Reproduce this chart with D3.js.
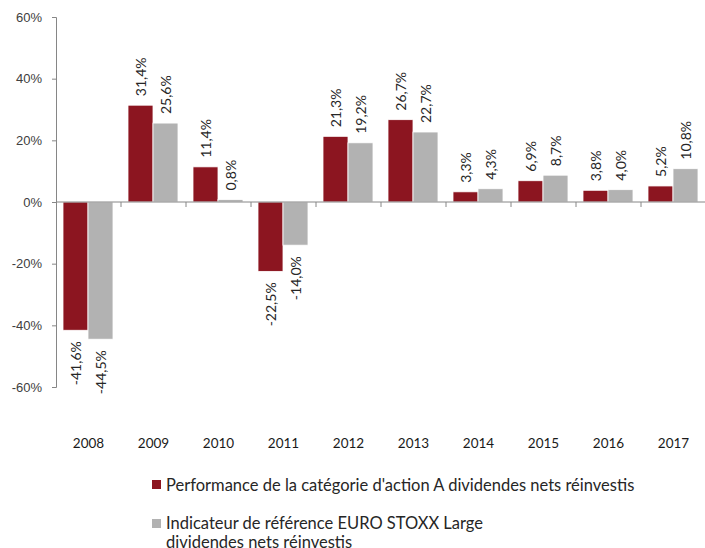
<!DOCTYPE html>
<html>
<head>
<meta charset="utf-8">
<script src="https://cdn.jsdelivr.net/npm/d3@7"></script>
<style>
  body { margin: 0; background: #fff; }
  svg { display: block; font-family: Lato, "Open Sans", sans-serif; }
</style>
</head>
<body>
<div id="chart"></div>
<script>
// data
var years = ["2008", "2009", "2010", "2011", "2012", "2013", "2014", "2015", "2016", "2017"];
var perfA = [-41.6, 31.4, 11.4, -22.5, 21.3, 26.7, 3.3, 6.9, 3.8, 5.2];
var indice = [-44.5, 25.6, 0.8, -14.0, 19.2, 22.7, 4.3, 8.7, 4.0, 10.8];
var yTicks = [-60, -40, -20, 0, 20, 40, 60];
var seriesNames = ["Performance de la catégorie d'action A dividendes nets réinvestis",
                   "Indicateur de référence EURO STOXX Large", "dividendes nets réinvestis"];

var width = 705;
var height = 548;
var margin = { top: 17, left: 56, right: 0 };
var colors = ["#8c1520", "#b2b2b2"];

var svg = d3.select("#chart").append("svg")
  .attr("width", width).attr("height", height);

var y = d3.scaleLinear().domain([-60, 60]).range([387, margin.top]);
var x = d3.scaleBand().domain(years).range([margin.left, margin.left + 650]);
var inner = d3.scaleBand().domain([0, 1]).range([7, 57]);

var fmt = function (v) { return v.toFixed(1).replace(".", ",") + "%"; };

// y axis
var yAxis = svg.append("g")
  .attr("transform", "translate(" + margin.left + ",0)")
  .call(d3.axisLeft(y).tickValues(yTicks).tickSize(4).tickPadding(10)
    .tickFormat(function (d) { return d + "%"; }));
yAxis.select(".domain").attr("stroke", "#868686");
yAxis.selectAll(".tick line").attr("stroke", "#868686");
yAxis.selectAll("text").attr("fill", "#404040").attr("font-size", "13px");

// bars
var rows = years.map(function (yr, i) { return { year: yr, vals: [perfA[i], indice[i]] }; });
var groups = svg.selectAll("g.year").data(rows).join("g")
  .attr("class", "year")
  .attr("transform", function (d) { return "translate(" + x(d.year) + ",0)"; });

groups.selectAll("rect").data(function (d) { return d.vals; }).join("rect")
  .attr("x", function (d, i) { return inner(i); })
  .attr("width", inner.bandwidth())
  .attr("y", function (d) { return d > 0 ? y(d) : y(0); })
  .attr("height", function (d) { return Math.abs(y(d) - y(0)); })
  .style("fill", function (d, i) { return colors[i]; })
  .style("stroke", "white").style("stroke-width", 0.8);

// value labels, rotated
groups.selectAll("text.val").data(function (d) { return d.vals; }).join("text")
  .attr("class", "val")
  .attr("transform", function (d, i) {
    var cx = inner(i) + inner.bandwidth() / 2;
    var cy = d > 0 ? y(d) - 9 : y(d) + 11;
    return "translate(" + cx + "," + cy + ") rotate(-90)";
  })
  .attr("text-anchor", function (d) { return d > 0 ? "start" : "end"; })
  .attr("dominant-baseline", "central")
  .attr("font-size", "14px")
  .attr("fill", "#262626")
  .text(fmt);

// x axis line at zero with ticks between categories
var xAxis = svg.append("g")
  .attr("transform", "translate(0," + y(0) + ")");
xAxis.append("line")
  .attr("x1", margin.left).attr("x2", width)
  .attr("stroke", "#868686");
xAxis.selectAll("line.tk").data(years.slice(1)).join("line")
  .attr("class", "tk")
  .attr("x1", function (d) { return x(d); }).attr("x2", function (d) { return x(d); })
  .attr("y1", 0).attr("y2", 5)
  .attr("stroke", "#868686");

// category labels at the bottom
svg.selectAll("text.cat").data(years).join("text")
  .attr("class", "cat")
  .attr("x", function (d) { return x(d) + x.bandwidth() / 2; })
  .attr("y", 443)
  .attr("text-anchor", "middle")
  .attr("dominant-baseline", "central")
  .attr("font-size", "13.5px")
  .attr("fill", "#1a1a1a")
  .text(function (d) { return d; });

// legend
var legend = svg.append("g");
legend.append("rect").attr("x", 152).attr("y", 480).attr("width", 9).attr("height", 9).style("fill", colors[0]);
legend.append("rect").attr("x", 152).attr("y", 519).attr("width", 9).attr("height", 9).style("fill", colors[1]);
legend.selectAll("text").data([[seriesNames[0], 485], [seriesNames[1], 523], [seriesNames[2], 542]]).join("text")
  .attr("x", 166)
  .attr("y", function (d) { return d[1]; })
  .attr("dominant-baseline", "central")
  .attr("font-size", "16.5px")
  .attr("fill", "#262626")
  .text(function (d) { return d[0]; });
</script>
</body>
</html>
